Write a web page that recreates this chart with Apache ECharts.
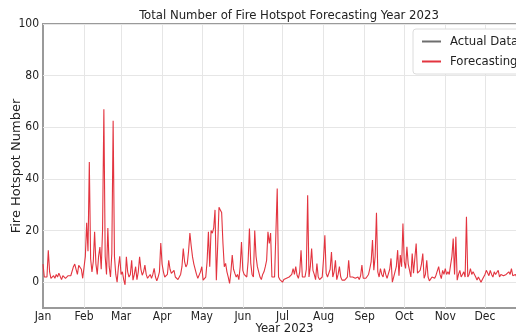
<!DOCTYPE html>
<html>
<head>
<meta charset="utf-8">
<script src="https://cdn.jsdelivr.net/npm/echarts@6/dist/echarts.min.js"></script>
<style>
  html, body { margin: 0; padding: 0; background: #fff; }
  #chart { width: 516px; height: 336px; }
</style>
</head>
<body>
<div id="chart"></div>
<script>
// Daily forecast of fire hotspot counts, 1 Jan – 31 Dec 2023
const forecastJan = [7, 2, 1.5, 2, 12.4, 4, 1.5, 1.8, 2.5, 1.5, 3, 2, 3.5, 4, 1, 2.5, 3, 1.5, 2, 2.5, 2, 2.5, 3, 6, 7, 5, 3, 6.5, 7, 5, 1.5];
const forecastFeb = [2, 10, 23, 12, 46.5, 9, 4, 8, 19.5, 7, 3, 10, 13.6, 5, 20, 67, 10, 3, 21, 6, 2, 11, 62.5, 10, 3, 0, 6, 10];
const forecastMar = [3, 4, 1, -1, 9.8, 4, 2, 3, 8.5, 0.8, 3, 6, 1, 4, 9.8, 5, 2.7, 4, 6.6, 3, 1.5, 2, 3, 1.5, 3, 5.4, 2, 0.5, 2, 4, 15.2];
const forecastApr = [7, 4, 2, 1.5, 3, 8.5, 5, 3.4, 3, 4.6, 2, 1.5, 1, 1.5, 3, 6, 13, 8, 5.9, 7, 12, 19, 14, 9.8, 7, 7.3, 3, 1.5, 2, 4];
const forecastMay = [6, 0.8, 1.5, 2, 8, 19.5, 6, 20, 19, 21, 28, 0.8, 14, 29, 28, 27, 15, 6, 7.3, 4, 2, -0.5, 4, 10.5, 5, 3.4, 2, 3, 1, 6, 15.6];
const forecastJun = [4.6, 3, 3.5, 2, 8, 20.8, 7.3, 3, 2, 20, 10, 6, 4, 2, 1, 3, 4, 6, 8.5, 19.5, 15, 19, 2, 1.5, 2, 2, 36.3, 2, 1, 0.8];
const forecastJul = [0, 1, 0.5, 1.5, 1, 2, 2.5, 3, 5.3, 3, 6, 2.7, 1.5, 4, 12.4, 2, 1.5, 2, 5, 33.7, 2, 6, 13, 4.6, 3, 1, 7.2, 2, 1, 1.5, 2];
const forecastAug = [9, 18.2, 3.4, 2, 1.5, 5, 11.7, 2, 4, 8.5, 1, 3, 6, 2, 0.8, 1.5, 0.8, 1, 2, 8.5, 2, 1.5, 2, 1.5, 1.5, 2, 2, 1, 2.5, 6.6, 1.5];
const forecastSep = [2, 1.5, 2, 3, 5.3, 8, 16.3, 4.6, 10, 26.9, 4, 2, 5.3, 3, 2, 5.3, 3, 1.5, 1, 5, 9.2, 0, 2, 2.5, 6, 12.4, 2.5, 10.5, 6, 22.7];
const forecastOct = [8, 5.3, 13.7, 7, 4.6, 2, 11.1, 3.5, 3, 15, 3.5, 3, 4.6, 7, 11.1, 1.5, 3, 8.5, 2, 0.5, 1, 2, 2.5, 1.5, 2.7, 3, 6, 3, 1.4, 4.6, 3];
const forecastNov = [5.3, 3, 4, 3, 6.6, 10, 16.9, 3, 17.6, 0.8, 3, 4.6, 2, 3, 4, 2, 25.3, 2, 3, 5.3, 3, 4, 4.6, 2, 0.8, 2, 1, 0, 1, 2];
const forecastDec = [3, 4.6, 4, 2.5, 4.6, 3, 2, 4, 3, 3.5, 4.6, 2, 3, 3, 2.5, 2, 3, 2.5, 4, 3, 5.3, 2.5, 2, 3, 2, 4, 3, 2, 3, 4, 2];

// No observed values are plotted for 2023; the series still appears in the legend
const actualData = [];

const monthLabels = ['Jan', 'Feb', 'Mar', 'Apr', 'May', 'Jun', 'Jul', 'Aug', 'Sep', 'Oct', 'Nov', 'Dec'];
const yTicks = [0, 20, 40, 60, 80, 100];

const months = [forecastJan, forecastFeb, forecastMar, forecastApr, forecastMay, forecastJun,
  forecastJul, forecastAug, forecastSep, forecastOct, forecastNov, forecastDec];
const forecast = [].concat(...months);

// x is the day of the year (0 = 1 Jan 2023); month ticks sit on each month's first day
const monthStarts = [];
let acc = 0;
months.forEach(m => { monthStarts.push(acc); acc += m.length; });
const daysInYear = acc;
const forecastSeries = forecast.map((v, i) => [i, v]);

const narrow = '"Liberation Sans Narrow", "DejaVu Sans Condensed", "DejaVu Sans", sans-serif';
const gridColor = '#e6e6e6';

const chart = echarts.init(document.getElementById('chart'), null, { renderer: 'canvas' });
chart.setOption({
  animation: false,
  backgroundColor: '#fff',
  title: {
    text: 'Total Number of Fire Hotspot Forecasting Year 2023',
    left: 284,
    top: 4,
    textAlign: 'center',
    textStyle: { fontFamily: narrow, fontSize: 13, fontWeight: 'normal', color: '#222' }
  },
  legend: {
    orient: 'vertical',
    left: 413,
    top: 29,
    padding: [6, 14, 6, 9],
    itemGap: 7,
    itemWidth: 19,
    itemHeight: 2,
    icon: 'rect',
    backgroundColor: '#fff',
    borderColor: '#dcdcdc',
    borderWidth: 1,
    borderRadius: 3,
    textStyle: { fontFamily: narrow, fontSize: 13, color: '#222', padding: [0, 0, 0, 4] },
    data: ['Actual Data', 'Forecasting']
  },
  grid: {
    left: 43, right: -10, top: 24, bottom: 28,
    outerBoundsMode: 'none',
    containLabel: false,
    show: true, borderColor: '#9a9a9a', borderWidth: 2, backgroundColor: 'transparent'
  },
  xAxis: {
    type: 'value',
    min: 0,
    max: daysInYear,
    name: 'Year 2023',
    nameLocation: 'middle',
    nameGap: 14,
    nameMoveOverlap: false,
    nameTextStyle: { fontFamily: narrow, fontSize: 13, color: '#222', verticalAlign: 'top' },
    axisLine: { show: false },
    axisTick: { show: false },
    splitLine: { show: false },
    axisLabel: {
      customValues: monthStarts,
      formatter: v => monthLabels[monthStarts.indexOf(v)],
      fontFamily: narrow, fontSize: 12, color: '#222', margin: 3, hideOverlap: false
    }
  },
  yAxis: {
    type: 'value',
    min: -10,
    max: 100,
    name: 'Fire Hotspot Number',
    nameLocation: 'middle',
    nameGap: 20,
    nameMoveOverlap: false,
    nameTextStyle: { fontFamily: '"DejaVu Sans", sans-serif', fontSize: 13, color: '#222', verticalAlign: 'bottom' },
    axisLine: { show: false },
    axisTick: { show: false },
    splitLine: { show: false },
    axisLabel: {
      customValues: yTicks,
      fontFamily: narrow, fontSize: 12, color: '#222', margin: 4
    }
  },
  series: [
    {
      name: 'Actual Data',
      type: 'line',
      data: actualData,
      showSymbol: false,
      itemStyle: { color: '#6e6e6e' },
      lineStyle: { color: '#6e6e6e', width: 1.2 }
    },
    {
      name: 'Forecasting',
      type: 'line',
      data: forecastSeries,
      showSymbol: false,
      z: 3,
      itemStyle: { color: '#e3343f' },
      lineStyle: { color: '#e3343f', width: 1.1 },
      markLine: {
        silent: true,
        symbol: 'none',
        z: 1,
        label: { show: false },
        lineStyle: { color: gridColor, width: 1, type: 'solid' },
        data: yTicks.map(v => ({ yAxis: v })).concat(monthStarts.slice(1).map(d => ({ xAxis: d })))
      }
    }
  ]
});
</script>
</body>
</html>
